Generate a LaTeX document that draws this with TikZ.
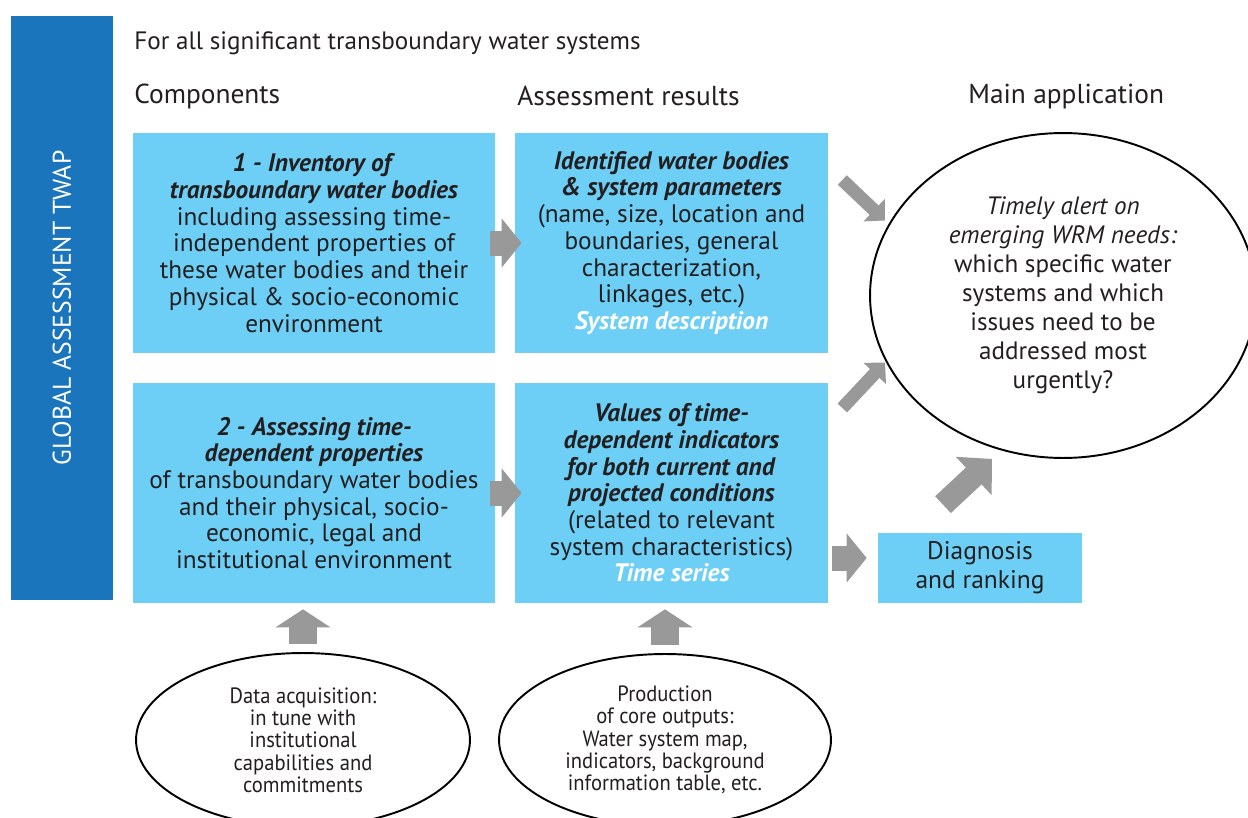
\documentclass[tikz,border=0pt]{standalone}
\usepackage{fontspec}
\setmainfont{PT Sans}
\newfontfamily\narrowfont[FakeStretch=0.93]{PT Sans}
\usetikzlibrary{shapes.geometric,arrows.meta,calc}
\definecolor{barblue}{RGB}{27,117,188}
\definecolor{boxblue}{RGB}{109,207,246}
\definecolor{arrowgray}{RGB}{153,153,153}
\definecolor{inkdark}{RGB}{35,31,32}
\newcommand{\boldit}[1]{\textbf{\textit{#1}}}

\begin{document}
\begin{tikzpicture}[x=0.02cm, y=-0.02cm, %Esquema de la evaluacion TWAP
    every node/.style={text=inkdark},
    box/.style={rectangle, fill=boxblue, inner sep=0pt, align=center, font=\fontsize{14.4}{15.2}\selectfont},
    bubble/.style={ellipse, draw=black, line width=1.1pt, fill=white, inner sep=0pt, align=center},
    head/.style={anchor=west, inner sep=0pt, font=\fontsize{15.6}{18}\selectfont},
    fatarrow/.style={draw=arrowgray, line width=0.5cm, -{Triangle[width=0.96cm,length=0.4cm]}},
    uparrow/.style={draw=arrowgray, line width=0.56cm, -{Triangle[width=1.08cm,length=0.36cm]}},
    bigarrow/.style={draw=arrowgray, line width=0.46cm, -{Triangle[width=1.02cm,length=0.5cm]}},
    thinarrow/.style={draw=arrowgray, line width=0.26cm, -{Triangle[width=0.6cm,length=0.3cm]}}]

        \useasboundingbox (0,0) rectangle (1248,818);
        \clip (0,0) rectangle (1248,818);

        \node[rectangle, fill=barblue, rotate=90, minimum width=11.68cm, minimum height=2.04cm, inner sep=0pt,
              text=white, font=\fontsize{14.6}{16}\selectfont] (bar) at (62,308) {GLOBAL ASSESSMENT TWAP};

        \node[anchor=west, inner sep=0pt, font=\fontsize{14.3}{16}\selectfont] (title) at (134,43) {For all significant transboundary water systems};
        \node[head] (hcomp) at (134,96) {Components};
        \node[head] (hres) at (517,96) {Assessment results};
        \node[head] (happ) at (968,97) {Main application};

        \node[box, minimum width=7.24cm, minimum height=4.4cm] (comp1) at (314,243)
            {\boldit{1 - Inventory of}\\ \boldit{transboundary water bodies}\\ including assessing time-\\ independent properties of\\ these water bodies and their\\ physical \& socio-economic\\ environment};
        \node[box, minimum width=6.26cm, minimum height=4.4cm] (res1) at (671.5,243)
            {\boldit{Identified water bodies}\\ \boldit{\& system parameters}\\ (name, size, location and\\ boundaries, general\\ characterization,\\ linkages, etc.)\\ \textcolor{white}{\boldit{System description}}};
        \node[box, minimum width=7.24cm, minimum height=4.4cm] (comp2) at (314,493)
            {\boldit{2 - Assessing time-}\\ \boldit{dependent properties}\\ of transboundary water bodies\\ and their physical, socio-\\ economic, legal and\\ institutional environment};
        \node[box, minimum width=6.26cm, minimum height=4.4cm] (res2) at (671.5,493)
            {\boldit{Values of time-}\\ \boldit{dependent indicators}\\ \boldit{for both current and}\\ \boldit{projected conditions}\\ (related to relevant\\ system characteristics)\\ \textcolor{white}{\boldit{Time series}}};
        \node[box, minimum width=4.08cm, minimum height=1.4cm, font=\fontsize{14.5}{16.5}\selectfont] (diag) at (980,568)
            {Diagnosis\\ and ranking};

        \node[bubble, minimum width=7.72cm, minimum height=6.5cm, font=\fontsize{14.3}{16.5}\selectfont] (alert) at (1063,295.5)
            {\textit{Timely alert on}\\ \textit{emerging WRM needs:}\\ which specific water\\ systems and which\\ issues need to be\\ addressed most\\ urgently?};
        \node[bubble, minimum width=6.68cm, minimum height=3.48cm, font=\narrowfont\fontsize{12.6}{12.7}\selectfont] (data) at (303,740)
            {Data acquisition:\\ in tune with\\ institutional\\ capabilities and\\ commitments};
        \node[bubble, minimum width=6.64cm, minimum height=3.44cm, font=\narrowfont\fontsize{12.6}{12.7}\selectfont] (prod) at (665,740)
            {Production\\ of core outputs:\\ Water system map,\\ indicators, background\\ information table, etc.};

        \draw[fatarrow] ($(comp1.east)+(-5,0)$) -- ($(res1.west)+(7,0)$);
        \draw[fatarrow] ($(comp2.east)+(-5,0)$) -- ($(res2.west)+(7,0)$);
        \draw[fatarrow] ($(res2.east)+(4,65)$) -- ($(diag.west)+(-11,-10)$);
        \draw[thinarrow] ($(res1.east)+(14,-63)$) -- ($(alert.center)+(-178,-75)$);
        \draw[thinarrow] ($(res2.east)+(14,-85)$) -- ($(alert.center)+(-178,67)$);
        \draw[bigarrow] ($(diag.north)+(-37,-28)$) -- ($(alert.south)+(-71,0)$);
        \draw[uparrow] ($(data.north)+(0,-8)$) -- ($(data.north |- comp2.south)+(0,6)$);
        \draw[uparrow] ($(prod.north)+(0,-8)$) -- ($(prod.north |- res2.south)+(0,6)$);
    \end{tikzpicture}
\end{document}
